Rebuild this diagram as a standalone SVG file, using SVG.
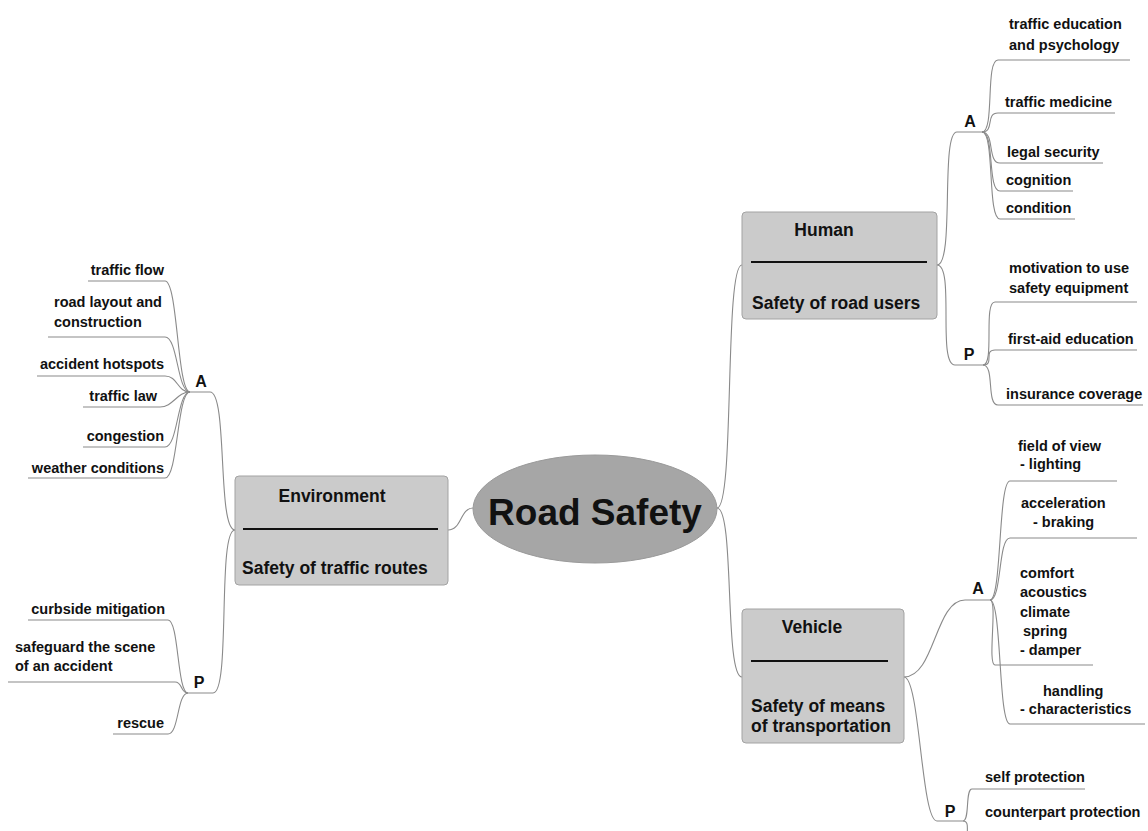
<svg xmlns="http://www.w3.org/2000/svg" width="1148" height="831" viewBox="0 0 1148 831">
<style>
.c{fill:none;stroke:#8a8a8a;stroke-width:1.1}
.t{font-family:"Liberation Sans",Arial,sans-serif;font-weight:bold;font-size:14.5px;fill:#111}
.ap{font-size:16px}
.e{text-anchor:end}
.bx{fill:#cbcbcb;stroke:#a3a3a3;stroke-width:1}
.bt{font-family:"Liberation Sans",Arial,sans-serif;font-weight:bold;font-size:17.5px;fill:#111}
.m{text-anchor:middle}
.sep{stroke:#111;stroke-width:2.2}
</style>
<rect width="1148" height="831" fill="#fff"/>
<g id="connectors">
<path class="c" d="M473,508 C460,508 462,530 448,530"/>
<path class="c" d="M717,508 C735,508 724,265 742,265"/>
<path class="c" d="M717,508 C735,508 724,677 742,677"/>
<path class="c" d="M937,265 C955,265 940,132 957,132 H982"/>
<path class="c" d="M937,265 C955,265 937,365 955,365 H983"/>
<path class="c" d="M982,132 C995,132 985,60 998,60 H1130"/>
<path class="c" d="M982,132 C995,132 985,113 998,113 H1115"/>
<path class="c" d="M982,132 C995,132 987,163 1000,163 H1103"/>
<path class="c" d="M982,132 C995,132 987,191 1000,191 H1073"/>
<path class="c" d="M982,132 C995,132 987,219 1000,219 H1075"/>
<path class="c" d="M983,365 C995,365 983,302 995,302 H1137"/>
<path class="c" d="M983,365 C995,365 983,350 995,350 H1137"/>
<path class="c" d="M983,365 C995,365 986,405 998,405 H1143"/>
<path class="c" d="M235,530 C217,530 228,392 210,392 H190"/>
<path class="c" d="M235,530 C217,530 231,693 213,693 H188"/>
<path class="c" d="M190,392 C177,392 178,281 165,281 H88"/>
<path class="c" d="M190,392 C177,392 178,337 165,337 H48"/>
<path class="c" d="M190,392 C177,392 178,376 165,376 H37"/>
<path class="c" d="M190,392 C177,392 173,407 160,407 H83"/>
<path class="c" d="M190,392 C177,392 178,447 165,447 H83"/>
<path class="c" d="M190,392 C177,392 178,478 165,478 H28"/>
<path class="c" d="M188,693 C177,693 179,620 168,620 H28"/>
<path class="c" d="M188,693 C180,693 183,682 175,682 H8"/>
<path class="c" d="M188,693 C177,693 179,734 168,734 H113"/>
<path class="c" d="M904,677 C935,677 935,600 965,600 H990"/>
<path class="c" d="M904,677 C920,677 921,821 937,821 H963"/>
<path class="c" d="M990,600 C1002,600 998,481 1010,481 H1117"/>
<path class="c" d="M990,600 C1002,600 998,538 1010,538 H1137"/>
<path class="c" d="M990,600 C998,600 987,665 995,665 H1093"/>
<path class="c" d="M990,600 C1002,600 998,724 1010,724 H1145"/>
<path class="c" d="M963,821 C970,821 965,789 972,789 H1085"/>
<path class="c" d="M963,821 C970,821 966,831 968,836"/>
</g>
<g id="center">
<ellipse cx="595" cy="509" rx="122" ry="54" fill="#a6a6a6" stroke="#9a9a9a"/>
<text class="m" x="595" y="525" font-family="Liberation Sans,Arial,sans-serif" font-weight="bold" font-size="37" fill="#111">Road Safety</text>
</g>
<g id="human">
<rect class="bx" x="742" y="212" width="195" height="107" rx="4"/>
<text class="bt m" x="824" y="236">Human</text>
<line class="sep" x1="751" y1="262" x2="927" y2="262"/>
<text class="bt" x="752" y="309">Safety of road users</text>
</g>
<g id="environment">
<rect class="bx" x="235" y="476" width="213" height="109" rx="4"/>
<text class="bt m" x="332" y="502">Environment</text>
<line class="sep" x1="243" y1="529" x2="438" y2="529"/>
<text class="bt" x="242" y="574">Safety of traffic routes</text>
</g>
<g id="vehicle">
<rect class="bx" x="742" y="609" width="162" height="134" rx="4"/>
<text class="bt m" x="812" y="633">Vehicle</text>
<line class="sep" x1="751" y1="661" x2="888" y2="661"/>
<text class="bt" x="751" y="712">Safety of means</text>
<text class="bt" x="751" y="732">of transportation</text>
</g>
<g id="human-a">
<text class="t ap m" x="970" y="127">A</text>
<text class="t" x="1009" y="29">traffic education</text>
<text class="t" x="1009" y="50">and psychology</text>
<text class="t" x="1005" y="107">traffic medicine</text>
<text class="t" x="1007" y="157">legal security</text>
<text class="t" x="1006" y="185">cognition</text>
<text class="t" x="1006" y="213">condition</text>
</g>
<g id="human-p">
<text class="t ap m" x="969" y="360">P</text>
<text class="t" x="1009" y="273">motivation to use</text>
<text class="t" x="1009" y="293">safety equipment</text>
<text class="t" x="1008" y="344">first-aid education</text>
<text class="t" x="1006" y="399">insurance coverage</text>
</g>
<g id="env-a">
<text class="t ap m" x="201" y="387">A</text>
<text class="t e" x="164" y="275">traffic flow</text>
<text class="t" x="54" y="307">road layout and</text>
<text class="t" x="54" y="327">construction</text>
<text class="t e" x="164" y="369">accident hotspots</text>
<text class="t e" x="157" y="401">traffic law</text>
<text class="t e" x="164" y="441">congestion</text>
<text class="t e" x="164" y="473">weather conditions</text>
</g>
<g id="env-p">
<text class="t ap m" x="199" y="688">P</text>
<text class="t e" x="165" y="614">curbside mitigation</text>
<text class="t" x="15" y="652">safeguard the scene</text>
<text class="t" x="15" y="671">of an accident</text>
<text class="t e" x="164" y="728">rescue</text>
</g>
<g id="veh-a">
<text class="t ap m" x="978" y="594">A</text>
<text class="t" x="1018" y="451">field of view</text>
<text class="t" x="1020" y="469">- lighting</text>
<text class="t" x="1021" y="508">acceleration</text>
<text class="t" x="1033" y="527">- braking</text>
<text class="t" x="1020" y="578">comfort</text>
<text class="t" x="1020" y="597">acoustics</text>
<text class="t" x="1020" y="617">climate</text>
<text class="t" x="1023" y="636">spring</text>
<text class="t" x="1020" y="655">- damper</text>
<text class="t" x="1043" y="696">handling</text>
<text class="t" x="1020" y="714">- characteristics</text>
</g>
<g id="veh-p">
<text class="t ap m" x="950" y="817">P</text>
<text class="t" x="985" y="782">self protection</text>
<text class="t" x="985" y="817">counterpart protection</text>
</g>
</svg>
